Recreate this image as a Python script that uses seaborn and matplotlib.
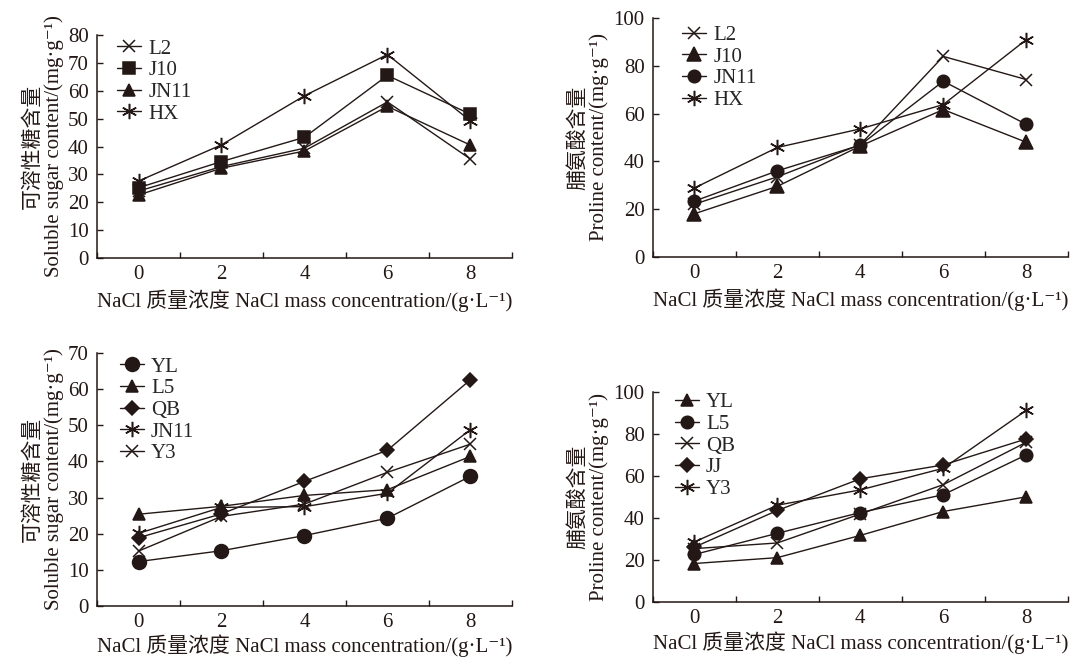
import numpy as np
import pandas as pd
import matplotlib
matplotlib.use("Agg")
import matplotlib.pyplot as plt
import seaborn as sns
from matplotlib.ticker import FixedLocator

# --------------------------------------------------
# DATA
# --------------------------------------------------

conc = ["0", "2", "4", "6", "8"]

# (a) soluble sugar, group 1
sugar1_names = ["L2", "J10", "JN11", "HX"]
sugar1_L2 = [24.0, 32.8, 39.4, 56.0, 35.5]
sugar1_J10 = [25.2, 34.6, 43.3, 65.5, 51.6]
sugar1_JN11 = [22.6, 32.2, 38.4, 54.4, 40.5]
sugar1_HX = [27.6, 40.6, 58.2, 73.0, 49.2]

# (b) proline, group 1
prol1_names = ["L2", "J10", "JN11", "HX"]
prol1_L2 = [22.0, 33.5, 47.0, 84.0, 74.3]
prol1_J10 = [18.0, 29.5, 46.4, 61.7, 48.0]
prol1_JN11 = [23.3, 36.0, 46.8, 73.6, 55.5]
prol1_HX = [28.8, 45.8, 53.6, 63.8, 91.0]

# (c) soluble sugar, group 2
sugar2_names = ["YL", "L5", "QB", "JN11", "Y3"]
sugar2_YL = [12.3, 15.3, 19.5, 24.3, 35.9]
sugar2_L5 = [25.4, 27.6, 30.6, 32.2, 41.4]
sugar2_QB = [18.9, 25.5, 34.5, 43.1, 62.6]
sugar2_JN11 = [20.1, 27.3, 27.5, 31.2, 48.8]
sugar2_Y3 = [15.2, 24.8, 28.2, 37.0, 44.8]

# (d) proline, group 2
prol2_names = ["YL", "L5", "QB", "JJ", "Y3"]
prol2_YL = [18.2, 21.0, 31.6, 43.0, 50.0]
prol2_L5 = [22.5, 32.6, 42.5, 51.0, 70.0]
prol2_QB = [25.3, 28.0, 41.8, 55.8, 76.0]
prol2_JJ = [26.0, 43.5, 58.6, 65.2, 77.6]
prol2_Y3 = [28.5, 46.0, 53.3, 63.6, 91.2]

# --------------------------------------------------
# STYLE
# --------------------------------------------------

sns.set_style("ticks")
plt.rcParams["font.family"] = ["Liberation Serif", "Noto Sans CJK SC", "DejaVu Sans"]

INK = "#231815"
FS_TICK = 15
FS_LAB = 15
ASTER = (6, 2, 0)

XLABEL = "NaCl 质量浓度 NaCl mass concentration/(g·L\u207b\u00b9)"
SUGAR_LABEL = "可溶性糖含量\nSoluble sugar content/(mg·g\u207b\u00b9)"
PROLINE_LABEL = "脯氨酸含量\nProline content/(mg·g\u207b\u00b9)"


def draw_panel(ax, names, series, markers, sizes, ymax, ystep, ylabel, leg_xy, xpad):
    # one lineplot per variety, since filled and line-art markers can't be mixed
    for name, vals, m, s in zip(names, series, markers, sizes):
        df = pd.DataFrame({"conc": conc, "value": vals})
        sns.lineplot(data=df, x="conc", y="value", marker=m, markersize=s,
                     color=INK, linewidth=1.0, markeredgecolor=INK,
                     markeredgewidth=1.1, sort=False, label=name, ax=ax)

    ax.set_xlim(-0.5, 4.5)
    ax.set_ylim(0, ymax)
    ax.set_yticks(np.arange(0, ymax + 1, ystep))
    ax.set_xticks(range(len(conc)))
    ax.set_xticklabels(conc)
    ax.xaxis.set_minor_locator(FixedLocator(np.arange(-0.5, 5, 1.0)))
    ax.tick_params(axis="x", which="major", length=0, labelsize=FS_TICK, colors=INK, pad=5)
    ax.tick_params(axis="x", which="minor", direction="in", length=4, width=1, color=INK)
    ax.tick_params(axis="y", direction="in", length=4, width=1, labelsize=FS_TICK,
                   colors=INK, pad=6)
    sns.despine(ax=ax)
    for sp in ["left", "bottom"]:
        ax.spines[sp].set_color(INK)
        ax.spines[sp].set_linewidth(1.1)

    ax.set_xlabel(XLABEL, fontsize=FS_LAB, color=INK, labelpad=xpad)
    ax.set_ylabel(ylabel, fontsize=FS_LAB, color=INK, labelpad=3, linespacing=1.1)

    ax.legend(loc="upper left", bbox_to_anchor=leg_xy,
              frameon=False, fontsize=FS_TICK, handlelength=1.15, handletextpad=0.35,
              labelspacing=0.1, borderaxespad=0, borderpad=0)


fig = plt.figure(figsize=(10.72, 6.57), dpi=100)
ax1 = fig.add_axes([0.0905, 0.6073, 0.387, 0.3394])
ax2 = fig.add_axes([0.609, 0.6093, 0.387, 0.3629])
ax3 = fig.add_axes([0.0905, 0.0776, 0.387, 0.385])
ax4 = fig.add_axes([0.609, 0.0842, 0.387, 0.3192])

draw_panel(ax1, sugar1_names, [sugar1_L2, sugar1_J10, sugar1_JN11, sugar1_HX],
           ["x", "s", "^", ASTER], [9, 9, 9, 11], 80, 10, SUGAR_LABEL,
           (0.048, 0.982), 4)
draw_panel(ax2, prol1_names, [prol1_L2, prol1_J10, prol1_JN11, prol1_HX],
           ["x", "^", "o", ASTER], [9, 10, 9, 11], 100, 20, PROLINE_LABEL,
           (0.07, 0.97), 4)
draw_panel(ax3, sugar2_names, [sugar2_YL, sugar2_L5, sugar2_QB, sugar2_JN11, sugar2_Y3],
           ["o", "^", "D", ASTER, "x"], [10, 9, 7, 11, 9], 70, 10, SUGAR_LABEL,
           (0.055, 0.984), 2)
draw_panel(ax4, prol2_names, [prol2_YL, prol2_L5, prol2_QB, prol2_JJ, prol2_Y3],
           ["^", "o", "x", "D", ASTER], [9, 9, 9, 7, 11], 100, 20, PROLINE_LABEL,
           (0.053, 0.996), 3)

fig.savefig("out.png", dpi=100)
